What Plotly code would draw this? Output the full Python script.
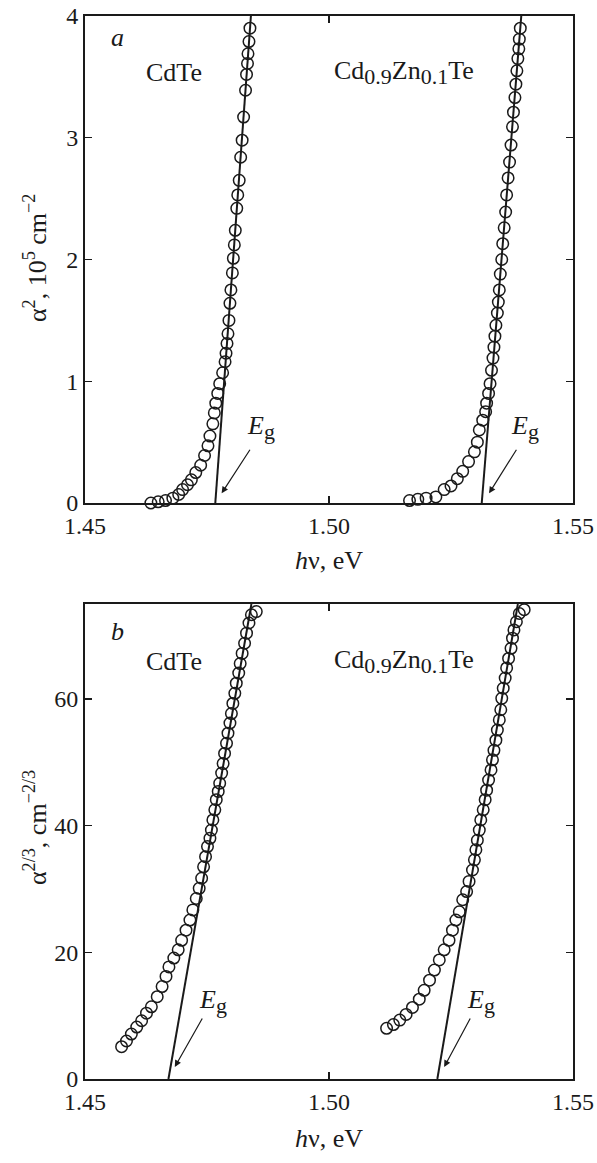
import plotly.graph_objects as go

# ---------------- Panel a: alpha^2 (10^5 cm^-2) ----------------
a_cdte_x = [1.4635, 1.4650, 1.4665, 1.4680, 1.4692, 1.4700, 1.4710, 1.4718, 1.4727,
            1.4737, 1.4745, 1.4752, 1.4756, 1.4762, 1.4765, 1.4768, 1.4772, 1.4776,
            1.4782, 1.4787, 1.4789, 1.4791, 1.4793, 1.4795, 1.4797, 1.4799, 1.4802,
            1.4804, 1.4806, 1.4808, 1.4811, 1.4813, 1.4816, 1.4819, 1.4822, 1.4825,
            1.4829, 1.4831, 1.4833, 1.4834, 1.4836, 1.4838]
a_cdte_y = [0.00, 0.01, 0.02, 0.04, 0.07, 0.11, 0.15, 0.19, 0.25,
            0.31, 0.39, 0.47, 0.55, 0.65, 0.74, 0.82, 0.90, 0.98,
            1.07, 1.16, 1.23, 1.31, 1.39, 1.50, 1.64, 1.75, 1.89,
            2.01, 2.12, 2.24, 2.42, 2.53, 2.65, 2.84, 2.98, 3.17,
            3.39, 3.52, 3.61, 3.69, 3.79, 3.90]

a_czt_x = [1.5165, 1.5182, 1.5199, 1.5219, 1.5236, 1.5250, 1.5263, 1.5274, 1.5286,
           1.5298, 1.5304, 1.5308, 1.5315, 1.5321, 1.5323, 1.5327, 1.5330, 1.5333,
           1.5336, 1.5338, 1.5340, 1.5342, 1.5345, 1.5347, 1.5349, 1.5351, 1.5354,
           1.5356, 1.5359, 1.5362, 1.5364, 1.5367, 1.5370, 1.5373, 1.5376, 1.5378,
           1.5381, 1.5383, 1.5385, 1.5387, 1.5389, 1.5390, 1.5392]
a_czt_y = [0.02, 0.03, 0.04, 0.05, 0.11, 0.14, 0.20, 0.26, 0.34,
           0.42, 0.50, 0.60, 0.68, 0.75, 0.82, 0.90, 0.98, 1.09,
           1.19, 1.28, 1.37, 1.46, 1.56, 1.65, 1.75, 1.88, 2.00,
           2.13, 2.26, 2.39, 2.53, 2.67, 2.80, 2.94, 3.09, 3.21,
           3.33, 3.44, 3.55, 3.65, 3.73, 3.81, 3.90]

fit_a_cdte_x = [1.4767, 1.4840]
fit_a_cdte_y = [0.0, 4.0]
fit_a_czt_x = [1.5313, 1.5394]
fit_a_czt_y = [0.0, 4.0]

# ---------------- Panel b: alpha^(2/3) (cm^-2/3) ----------------
b_cdte_x = [1.4575, 1.4585, 1.4595, 1.4606, 1.4616, 1.4626, 1.4636, 1.4648, 1.4658,
            1.4666, 1.4672, 1.4682, 1.4691, 1.4698, 1.4707, 1.4715, 1.4721, 1.4728,
            1.4734, 1.4739, 1.4743, 1.4747, 1.4751, 1.4756, 1.4759, 1.4762, 1.4766,
            1.4769, 1.4773, 1.4776, 1.4780, 1.4783, 1.4786, 1.4790, 1.4793, 1.4797,
            1.4800, 1.4803, 1.4807, 1.4810, 1.4815, 1.4818, 1.4822, 1.4827, 1.4831,
            1.4836, 1.4841, 1.4851]
b_cdte_y = [5.1, 6.0, 7.1, 8.2, 9.2, 10.4, 11.4, 13.0, 14.6,
            16.2, 17.7, 19.1, 20.4, 21.9, 23.5, 25.1, 26.7, 28.5,
            30.1, 31.7, 33.5, 35.1, 36.7, 38.0, 39.3, 40.9, 42.5,
            44.1, 45.4, 46.7, 48.3, 49.8, 51.4, 53.0, 54.6, 56.2,
            57.7, 59.3, 60.9, 62.5, 64.1, 65.6, 67.2, 68.8, 70.4,
            72.0, 73.3, 73.8]

b_czt_x = [1.5118, 1.5132, 1.5145, 1.5158, 1.5171, 1.5185, 1.5195, 1.5206, 1.5216,
           1.5226, 1.5236, 1.5246, 1.5253, 1.5260, 1.5267, 1.5274, 1.5282, 1.5287,
           1.5294, 1.5298, 1.5301, 1.5304, 1.5308, 1.5311, 1.5316, 1.5320, 1.5323,
           1.5327, 1.5332, 1.5335, 1.5338, 1.5342, 1.5345, 1.5349, 1.5352, 1.5354,
           1.5357, 1.5361, 1.5364, 1.5368, 1.5373, 1.5376, 1.5379, 1.5384, 1.5390,
           1.5400]
b_czt_y = [8.0, 8.6, 9.3, 10.2, 11.3, 12.6, 14.0, 15.6, 17.2,
           18.8, 20.4, 21.9, 23.5, 25.1, 26.4, 28.3, 29.6, 31.2,
           33.0, 34.6, 36.2, 37.7, 39.3, 40.9, 42.5, 44.1, 45.6,
           47.2, 48.8, 50.4, 51.9, 53.5, 55.1, 56.7, 58.3, 60.1,
           61.7, 63.3, 64.9, 66.4, 68.0, 69.6, 70.9, 72.2, 73.5,
           74.1]

fit_b_cdte_x = [1.4671, 1.4841]
fit_b_cdte_y = [0.0, 75.0]
fit_b_czt_x = [1.5222, 1.5387]
fit_b_czt_y = [0.0, 75.0]

x_ticks = [1.45, 1.50, 1.55]
x_ticklabels = ["1.45", "1.50", "1.55"]
a_yticks = [0, 1, 2, 3, 4]
b_yticks = [0, 20, 40, 60]

FONT = "Liberation Serif"
BLACK = "#1a1a1a"
TICK_SIZE = 24
TEXT_SIZE = 26

fig = go.Figure()

marker = dict(symbol="circle-open", size=11.5, color=BLACK, line=dict(width=1.5, color=BLACK))
fitline = dict(color=BLACK, width=2)

for xs, ys, xa, ya in [(a_cdte_x, a_cdte_y, "x", "y"), (a_czt_x, a_czt_y, "x", "y"),
                       (b_cdte_x, b_cdte_y, "x2", "y2"), (b_czt_x, b_czt_y, "x2", "y2")]:
    fig.add_trace(go.Scatter(x=xs, y=ys, mode="markers", marker=marker, cliponaxis=False,
                             xaxis=xa, yaxis=ya, showlegend=False, hoverinfo="skip"))

for xs, ys, xa, ya in [(fit_a_cdte_x, fit_a_cdte_y, "x", "y"), (fit_a_czt_x, fit_a_czt_y, "x", "y"),
                       (fit_b_cdte_x, fit_b_cdte_y, "x2", "y2"), (fit_b_czt_x, fit_b_czt_y, "x2", "y2")]:
    fig.add_trace(go.Scatter(x=xs, y=ys, mode="lines", line=fitline,
                             xaxis=xa, yaxis=ya, showlegend=False, hoverinfo="skip"))

axis_common = dict(showline=True, linewidth=2, linecolor=BLACK, mirror="ticks",
                   ticks="inside", ticklen=7, tickwidth=1.2, tickcolor=BLACK,
                   showgrid=False, zeroline=False, automargin=False,
                   ticklabeloverflow="allow",
                   tickfont=dict(family=FONT, size=TICK_SIZE, color=BLACK))

# layout geometry (pixels): plot area x 85..573, panel a y 16..503, panel b y 604..1079
L, R, T, B = 85, 24, 16, 84
W, H = 597, 1163
PH = H - T - B


def py(p):  # pixel y -> paper y
    return (H - B - p) / PH


def px(p):  # pixel x -> paper x
    return (p - L) / (W - L - R)


fig.update_layout(
    width=W, height=H,
    margin=dict(l=L, r=R, t=T, b=B, autoexpand=False),
    paper_bgcolor="white", plot_bgcolor="white",
    font=dict(family=FONT, color=BLACK),
    xaxis=dict(axis_common, range=[1.45, 1.55], tickvals=x_ticks, ticktext=x_ticklabels,
               domain=[0, 1], anchor="y"),
    yaxis=dict(axis_common, range=[0, 4], tickvals=a_yticks, domain=[py(503), 1], anchor="x"),
    xaxis2=dict(axis_common, range=[1.45, 1.55], tickvals=x_ticks, ticktext=x_ticklabels,
                domain=[0, 1], anchor="y2"),
    yaxis2=dict(axis_common, range=[0, 75], tickvals=b_yticks, domain=[0, py(604)], anchor="x2"),
)

txt = dict(family=FONT, size=TEXT_SIZE, color=BLACK)
SUB = '<sub><span style="font-size:22px">{}</span></sub>'
CZT = "Cd" + SUB.format("0.9") + "Zn" + SUB.format("0.1") + "Te"
EG = "<i>E</i>" + SUB.format("g")

ann = [
    dict(x=1.4567, y=3.82, xref="x", yref="y", text="<i>a</i>", showarrow=False, font=txt),
    dict(x=1.4682, y=3.54, xref="x", yref="y", text="CdTe", showarrow=False, font=txt),
    dict(x=1.5153, y=3.54, xref="x", yref="y", text=CZT, showarrow=False, font=txt),
    dict(x=1.4567, y=70.6, xref="x2", yref="y2", text="<i>b</i>", showarrow=False, font=txt),
    dict(x=1.4682, y=66.0, xref="x2", yref="y2", text="CdTe", showarrow=False, font=txt),
    dict(x=1.5153, y=66.0, xref="x2", yref="y2", text=CZT, showarrow=False, font=txt),
]
# Eg labels with arrows: (xref, yref, text x, text y, arrow tail x, y, arrow head x, y)
eg = [
    ("x", "y", 1.4860, 0.62, 1.4840, 0.45, 1.4780, 0.08),
    ("x", "y", 1.5402, 0.62, 1.5386, 0.45, 1.5328, 0.08),
    ("x2", "y2", 1.4762, 12.2, 1.4742, 9.8, 1.4684, 1.9),
    ("x2", "y2", 1.5311, 12.2, 1.5291, 9.8, 1.5236, 1.9),
]
for xr, yr, tx, ty, ax, ay, hx, hy in eg:
    ann.append(dict(x=tx, y=ty, xref=xr, yref=yr, text=EG, showarrow=False, font=txt,
                    xanchor="center", yanchor="middle"))
    ann.append(dict(x=hx, y=hy, xref=xr, yref=yr, ax=ax, ay=ay, axref=xr, ayref=yr,
                    text="", showarrow=True, arrowhead=2, arrowsize=1.1, arrowwidth=1.2,
                    arrowcolor=BLACK, standoff=0))
# axis titles
ann += [
    dict(x=px(35), y=py(258), xref="paper", yref="paper", textangle=-90,
         xanchor="center", yanchor="middle",
         text="α<sup>2</sup>, 10<sup>5</sup> cm<sup>−2</sup>", showarrow=False, font=txt),
    dict(x=px(35), y=py(828), xref="paper", yref="paper", textangle=-90,
         xanchor="center", yanchor="middle",
         text="α<sup>2/3</sup>, cm<sup>−2/3</sup>", showarrow=False, font=txt),
    dict(x=px(329), y=py(560), xref="paper", yref="paper", xanchor="center", yanchor="middle",
         text="<i>h</i>ν, eV", showarrow=False, font=txt),
    dict(x=px(329), y=py(1138), xref="paper", yref="paper", xanchor="center", yanchor="middle",
         text="<i>h</i>ν, eV", showarrow=False, font=txt),
]
fig.update_layout(annotations=ann)

# remove the default page margin so the figure sits at the window's top-left corner
reset_page = ("document.body.style.margin='0';document.body.style.padding='0';"
              "document.documentElement.style.overflow='hidden';")
fig.write_html("out.html", post_script=reset_page,
               config={"displayModeBar": False, "staticPlot": True})
